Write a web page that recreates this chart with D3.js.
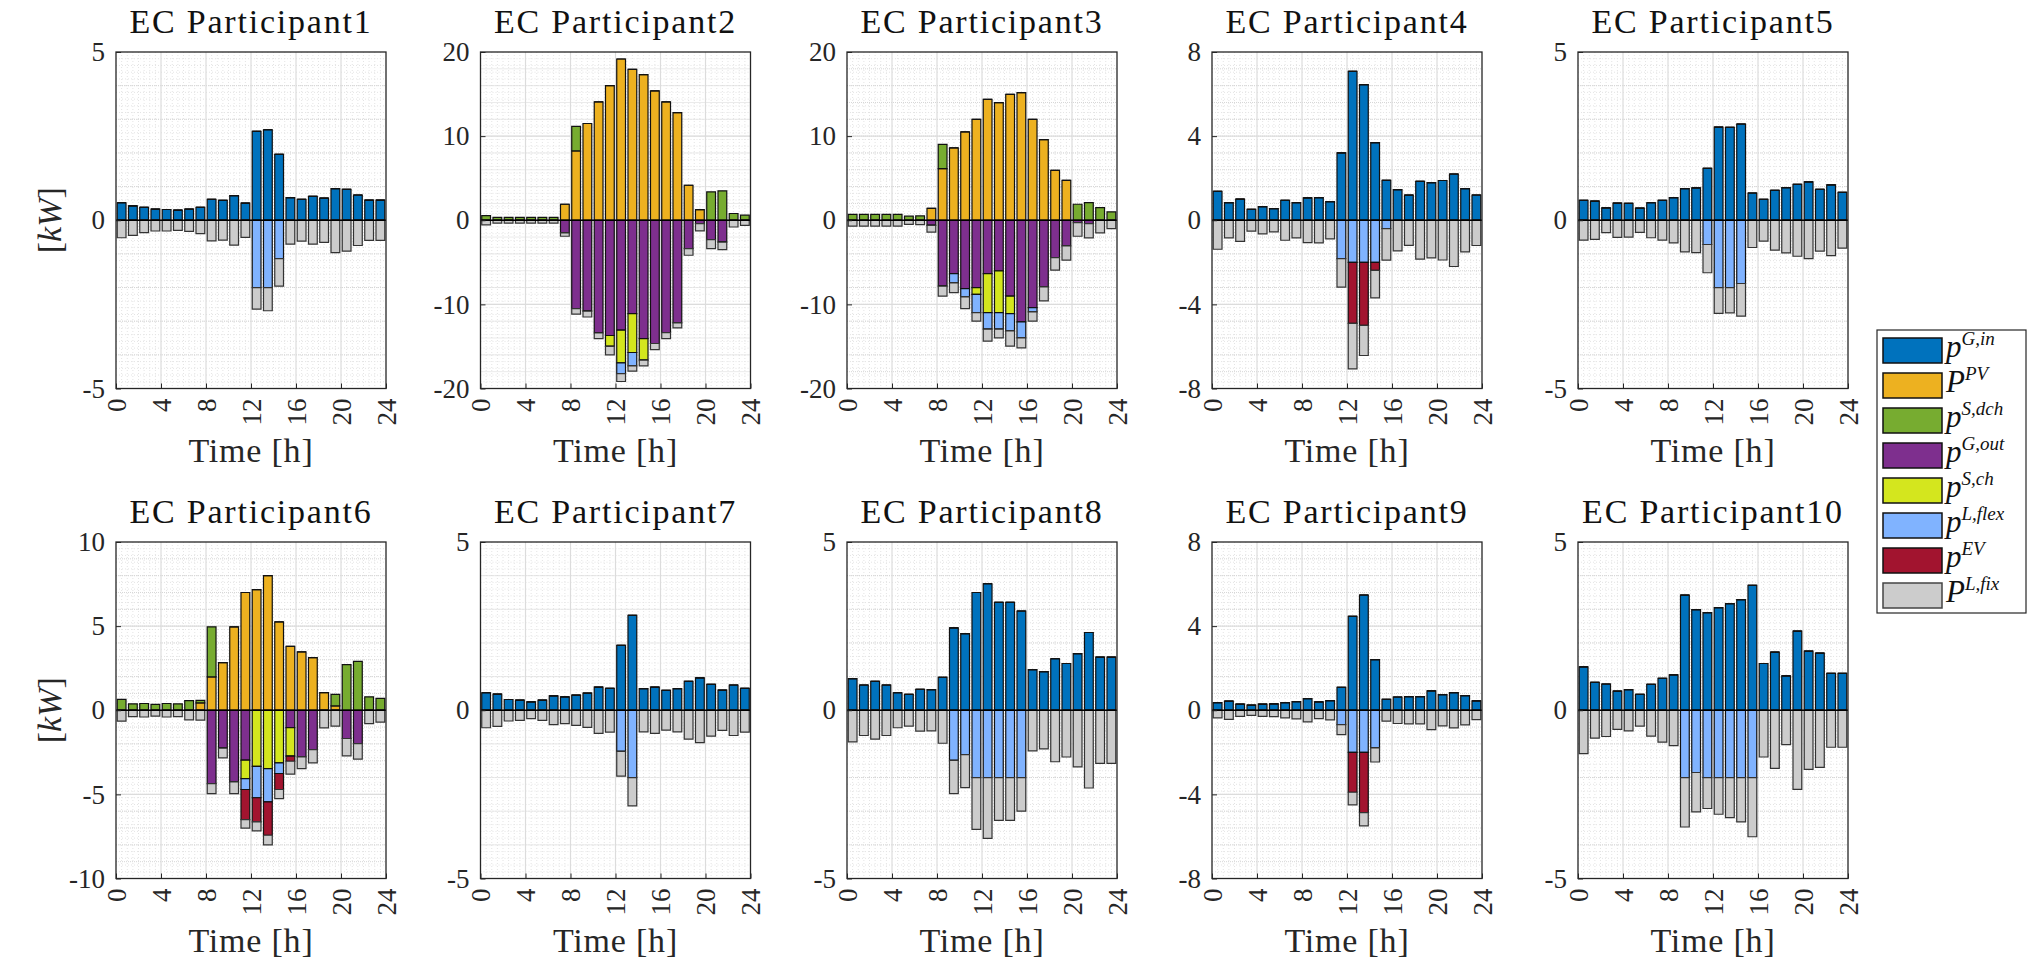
<!DOCTYPE html>
<html><head><meta charset="utf-8">
<script src="https://cdn.jsdelivr.net/npm/d3@7"></script>
<style>body{margin:0;background:#fff;} svg{display:block;}</style>
</head><body>
<svg id="chart" width="2028" height="963"></svg>
<script>
// ---------------- DATA ----------------
const hours = [0,1,2,3,4,5,6,7,8,9,10,11,12,13,14,15,16,17,18,19,20,21,22,23];
const xTickValues = [0,4,8,12,16,20,24];
const titles = ["EC Participant1","EC Participant2","EC Participant3","EC Participant4","EC Participant5",
                "EC Participant6","EC Participant7","EC Participant8","EC Participant9","EC Participant10"];
const yLimits = [5,20,20,8,5,10,5,5,8,5];
const yTickSets = [[-5,0,5],[-20,-10,0,10,20],[-20,-10,0,10,20],[-8,-4,0,4,8],[-5,0,5],
                   [-10,-5,0,5,10],[-5,0,5],[-5,0,5],[-8,-4,0,4,8],[-5,0,5]];

const seriesKeys = ["Gin","PV","Sdch","Gout","Sch","Lflex","EV","Lfix"];
const seriesColors = ["#0072BD","#EDB120","#77AC30","#7E2F8E","#D4E61E","#80B3FF","#A2142F","#CCCCCC"];
const legendBase = ["p","P","p","p","p","p","p","P"];
const legendSup = ["G,in","PV","S,dch","G,out","S,ch","L,flex","EV","L,fix"];
const positiveKeys = ["Gin","PV","Sdch"];
const negativeKeys = ["Gout","Sch","Lflex","EV","Lfix"];

const zeros = [0,0,0,0,0,0,0,0,0,0,0,0,0,0,0,0,0,0,0,0,0,0,0,0];

// Participant 1
const p1Gin   = [0.52,0.43,0.38,0.33,0.32,0.30,0.33,0.38,0.62,0.59,0.73,0.51,2.64,2.69,1.96,0.67,0.62,0.71,0.66,0.94,0.92,0.75,0.60,0.60];
const p1Lflex = [0,0,0,0,0,0,0,0,0,0,0,0,2.00,2.00,1.14,0,0,0,0,0,0,0,0,0];
const p1Lfix  = [0.52,0.45,0.37,0.32,0.32,0.30,0.33,0.40,0.61,0.59,0.74,0.51,0.64,0.69,0.82,0.71,0.62,0.71,0.66,0.96,0.92,0.75,0.60,0.60];
// Participant 2
const p2PV    = [0,0,0,0,0,0,0,1.90,8.24,11.50,14.06,16.00,19.17,17.94,17.30,15.37,14.06,12.80,4.16,1.27,0,0,0,0];
const p2Sdch  = [0.55,0.35,0.35,0.35,0.35,0.35,0.35,0,2.93,0,0,0,0,0,0,0,0,0,0,0,3.37,3.50,0.80,0.60];
const p2Gout  = [0,0,0,0,0,0,0,1.50,10.50,10.80,13.40,13.70,13.07,11.09,14.06,14.65,13.35,12.20,3.37,0.40,2.30,2.60,0,0];
const p2Sch   = [0,0,0,0,0,0,0,0,0,0,0,1.30,3.88,4.63,2.57,0,0,0,0,0,0,0,0,0];
const p2Lflex = [0,0,0,0,0,0,0,0,0,0,0,0,1.27,1.58,0,0,0,0,0,0,0,0,0,0];
const p2Lfix  = [0.55,0.35,0.35,0.35,0.35,0.35,0.35,0.40,0.67,0.70,0.66,1.00,0.95,0.64,0.67,0.72,0.71,0.60,0.79,0.87,1.07,0.90,0.80,0.60];
// Participant 3
const p3PV    = [0,0,0,0,0,0,0,1.40,6.14,8.60,10.50,12.00,14.38,13.98,14.97,15.17,12.00,9.58,5.94,4.75,0,0,0,0];
const p3Sdch  = [0.71,0.71,0.71,0.71,0.71,0.48,0.51,0,2.89,0,0,0,0,0,0,0,0,0,0,0,1.90,2.10,1.50,1.00];
const p3Gout  = [0,0,0,0,0,0,0,0.60,7.84,6.34,8.12,8.00,6.34,6.02,9.03,12.08,10.38,7.92,4.44,3.05,0.30,0.40,0,0];
const p3Sch   = [0,0,0,0,0,0,0,0,0,0,0,0.80,4.63,4.95,2.06,0,0,0,0,0,0,0,0,0];
const p3Lflex = [0,0,0,0,0,0,0,0,0,1.11,0.98,2.17,1.98,1.98,2.06,1.90,0.51,0,0,0,0,0,0,0];
const p3Lfix  = [0.71,0.71,0.71,0.71,0.71,0.48,0.51,0.80,1.19,1.15,1.40,1.03,1.43,1.03,1.82,1.19,1.11,1.66,1.50,1.70,1.60,1.70,1.50,1.00];
// Participant 4
const p4Gin   = [1.38,0.84,1.00,0.52,0.65,0.55,0.95,0.84,1.06,1.08,0.89,3.20,7.08,6.45,3.69,1.90,1.46,1.19,1.85,1.79,1.89,2.20,1.50,1.20];
const p4Lflex = [0,0,0,0,0,0,0,0,0,0,0,1.82,2.00,2.00,2.00,0.40,0,0,0,0,0,0,0,0];
const p4EV    = [0,0,0,0,0,0,0,0,0,0,0,0,2.90,3.00,0.38,0,0,0,0,0,0,0,0,0];
const p4Lfix  = [1.38,0.84,1.00,0.52,0.65,0.55,0.95,0.84,1.06,1.08,0.89,1.36,2.17,1.43,1.31,1.50,1.46,1.19,1.85,1.79,1.89,2.20,1.50,1.20];
// Participant 5
const p5Gin   = [0.59,0.57,0.37,0.51,0.50,0.36,0.52,0.59,0.67,0.94,0.96,1.54,2.77,2.76,2.86,0.81,0.62,0.89,0.97,1.07,1.14,0.92,1.05,0.83];
const p5Lflex = [0,0,0,0,0,0,0,0,0,0,0,0.72,2.00,2.00,1.88,0,0,0,0,0,0,0,0,0];
const p5Lfix  = [0.59,0.57,0.37,0.51,0.50,0.36,0.52,0.59,0.67,0.94,0.96,0.84,0.77,0.75,0.97,0.81,0.62,0.89,0.97,1.07,1.14,0.92,1.05,0.83];
// Participant 6
const p6PV    = [0,0,0,0,0,0,0,0.44,1.98,2.83,4.95,7.00,7.17,8.00,5.25,3.80,3.47,3.13,1.05,0.26,0,0,0,0];
const p6Sdch  = [0.65,0.38,0.40,0.35,0.40,0.38,0.57,0.15,2.98,0,0,0,0,0,0,0,0,0,0,0.68,2.71,2.90,0.80,0.70];
const p6Gout  = [0,0,0,0,0,0,0,0,4.36,2.25,4.26,2.97,0,0,0,1.03,2.77,2.34,0,0,1.68,1.98,0,0];
const p6Sch   = [0,0,0,0,0,0,0,0,0,0,0,1.09,3.33,3.47,3.13,1.70,0,0,0,0,0,0,0,0];
const p6Lflex = [0,0,0,0,0,0,0,0,0,0,0,0.65,1.87,1.98,0.63,0,0,0,0,0,0,0,0,0];
const p6EV    = [0,0,0,0,0,0,0,0,0,0,0,1.79,1.43,1.98,0.95,0.30,0,0,0,0,0,0,0,0];
const p6Lfix  = [0.65,0.38,0.40,0.35,0.40,0.38,0.57,0.59,0.60,0.58,0.69,0.50,0.54,0.57,0.54,0.77,0.70,0.79,1.05,0.94,1.03,0.92,0.80,0.70];
// Participant 7
const p7Gin   = [0.52,0.48,0.32,0.30,0.25,0.30,0.43,0.40,0.45,0.51,0.69,0.65,1.93,2.82,0.64,0.69,0.59,0.64,0.86,0.96,0.77,0.60,0.75,0.65];
const p7Lflex = [0,0,0,0,0,0,0,0,0,0,0,0,1.22,2.00,0,0,0,0,0,0,0,0,0,0];
const p7Lfix  = [0.52,0.48,0.32,0.30,0.25,0.30,0.43,0.40,0.45,0.51,0.69,0.65,0.74,0.84,0.64,0.69,0.59,0.64,0.86,0.96,0.77,0.60,0.75,0.65];
// Participant 8
const p8Gin   = [0.94,0.75,0.86,0.75,0.52,0.47,0.62,0.61,0.98,2.45,2.28,3.50,3.76,3.21,3.21,2.95,1.21,1.15,1.53,1.39,1.68,2.31,1.58,1.58];
const p8Lflex = [0,0,0,0,0,0,0,0,0,1.49,1.32,2.00,2.00,2.00,2.00,2.00,0,0,0,0,0,0,0,0];
const p8Lfix  = [0.94,0.75,0.86,0.75,0.52,0.47,0.62,0.61,0.98,0.99,0.98,1.54,1.81,1.27,1.27,1.00,1.21,1.15,1.53,1.39,1.68,2.31,1.58,1.58];
// Participant 9
const p9Gin   = [0.36,0.43,0.29,0.24,0.29,0.30,0.36,0.41,0.55,0.40,0.46,1.09,4.47,5.48,2.41,0.52,0.63,0.65,0.65,0.92,0.74,0.84,0.70,0.45];
const p9Lflex = [0,0,0,0,0,0,0,0,0,0,0,0.68,2.00,2.00,1.79,0,0,0,0,0,0,0,0,0];
const p9EV    = [0,0,0,0,0,0,0,0,0,0,0,0,1.90,2.87,0,0,0,0,0,0,0,0,0,0];
const p9Lfix  = [0.36,0.43,0.29,0.24,0.29,0.30,0.36,0.41,0.55,0.40,0.46,0.48,0.60,0.63,0.67,0.52,0.63,0.65,0.65,0.92,0.74,0.84,0.70,0.45];
// Participant 10
const p10Gin   = [1.29,0.83,0.78,0.57,0.61,0.47,0.77,0.95,1.05,3.42,2.99,2.90,3.05,3.17,3.29,3.71,1.39,1.73,1.02,2.35,1.76,1.70,1.10,1.10];
const p10Lflex = [0,0,0,0,0,0,0,0,0,2.00,1.85,2.00,2.00,2.00,2.00,2.00,0,0,0,0,0,0,0,0];
const p10Lfix  = [1.29,0.83,0.78,0.57,0.61,0.47,0.77,0.95,1.05,1.47,1.17,0.92,1.09,1.19,1.32,1.76,1.39,1.73,1.02,2.35,1.76,1.70,1.10,1.10];

// table built from the arrays above
const participants = [
  {Gin:p1Gin, PV:zeros, Sdch:zeros, Gout:zeros, Sch:zeros, Lflex:p1Lflex, EV:zeros, Lfix:p1Lfix},
  {Gin:zeros, PV:p2PV, Sdch:p2Sdch, Gout:p2Gout, Sch:p2Sch, Lflex:p2Lflex, EV:zeros, Lfix:p2Lfix},
  {Gin:zeros, PV:p3PV, Sdch:p3Sdch, Gout:p3Gout, Sch:p3Sch, Lflex:p3Lflex, EV:zeros, Lfix:p3Lfix},
  {Gin:p4Gin, PV:zeros, Sdch:zeros, Gout:zeros, Sch:zeros, Lflex:p4Lflex, EV:p4EV, Lfix:p4Lfix},
  {Gin:p5Gin, PV:zeros, Sdch:zeros, Gout:zeros, Sch:zeros, Lflex:p5Lflex, EV:zeros, Lfix:p5Lfix},
  {Gin:zeros, PV:p6PV, Sdch:p6Sdch, Gout:p6Gout, Sch:p6Sch, Lflex:p6Lflex, EV:p6EV, Lfix:p6Lfix},
  {Gin:p7Gin, PV:zeros, Sdch:zeros, Gout:zeros, Sch:zeros, Lflex:p7Lflex, EV:zeros, Lfix:p7Lfix},
  {Gin:p8Gin, PV:zeros, Sdch:zeros, Gout:zeros, Sch:zeros, Lflex:p8Lflex, EV:zeros, Lfix:p8Lfix},
  {Gin:p9Gin, PV:zeros, Sdch:zeros, Gout:zeros, Sch:zeros, Lflex:p9Lflex, EV:p9EV, Lfix:p9Lfix},
  {Gin:p10Gin, PV:zeros, Sdch:zeros, Gout:zeros, Sch:zeros, Lflex:p10Lflex, EV:zeros, Lfix:p10Lfix}
];

// ---------------- FONT PICK ----------------
const ctx = document.createElement("canvas").getContext("2d");
function measure(font, size, txt) { ctx.font = `${size}px ${font}`; return ctx.measureText(txt).width; }
function hasFont(name) {
  const s = "EC Participant3 mmmwwwiiilll 0123456789";
  return measure(`'${name}', monospace`, 40, s) !== measure("monospace", 40, s) ||
         measure(`'${name}', sans-serif`, 40, s) !== measure("sans-serif", 40, s);
}
const serifCandidates = ["Liberation Serif", "Tinos", "DejaVu Serif", "Noto Serif", "Times New Roman"];
const picked = serifCandidates.find(hasFont) || "serif";
const FONT = `'${picked}', serif`;
// size fonts so that the text matches the reference's measured extents
function fitSize(txt, targetW, base) { const w = measure(FONT, base, txt); return base * targetW / w; }
const titleSize = Math.min(34, fitSize("EC Participant3", 243, 33));
const titleSpacing = Math.max(0, (243 - measure(FONT, titleSize, "EC Participant3")) / 15);
const labelSize = Math.min(34, fitSize("Time [h]", 125, 33));
const labelSpacing = Math.max(0, (125 - measure(FONT, labelSize, "Time [h]")) / 8);
const tickSize = Math.min(27, fitSize("-20", 41, 27));

// ---------------- DRAWING ----------------
const svg = d3.select("#chart");
svg.append("rect").attr("width",2028).attr("height",963).attr("fill","#fff");

const W = 270, H = 336.5;
const colLeft = [116, 480.5, 847, 1212, 1578];
const rowTop = [52, 542];
const colorOf = Object.fromEntries(seriesKeys.map((k,i)=>[k,seriesColors[i]]));

participants.forEach((p, k) => {
  const col = k % 5, row = Math.floor(k / 5);
  const g = svg.append("g").attr("transform", `translate(${colLeft[col]},${rowTop[row]})`);
  const M = yLimits[k];
  const x = d3.scaleLinear().domain([0, 24]).range([0, W]);
  const y = d3.scaleLinear().domain([-M, M]).range([H, 0]);
  const ticks = yTickSets[k];
  const step = ticks[1] - ticks[0];

  // fine dotted minor grid
  const grid = g.append("g");
  d3.range(0.5, 24, 0.5).filter(v => v % 4 !== 0).forEach(v => {
    grid.append("line").attr("x1", x(v)).attr("x2", x(v)).attr("y1", 0).attr("y2", H)
      .attr("stroke", "#e4e4e4").attr("stroke-width", 1).attr("stroke-dasharray", "1,2");
  });
  const fine = 2 * M / 50;
  d3.range(-M + fine, M - fine / 2, fine).forEach(v => {
    grid.append("line").attr("x1", 0).attr("x2", W).attr("y1", y(v)).attr("y2", y(v))
      .attr("stroke", "#e4e4e4").attr("stroke-width", 1).attr("stroke-dasharray", "1,2");
  });
  const med = step / 5;
  d3.range(-M + med, M - med / 2, med).forEach(v => {
    grid.append("line").attr("x1", 0).attr("x2", W).attr("y1", y(v)).attr("y2", y(v))
      .attr("stroke", "#d6d6d6").attr("stroke-width", 1).attr("stroke-dasharray", "1,1");
  });
  // major grid
  xTickValues.slice(1, -1).forEach(v => {
    grid.append("line").attr("x1", x(v)).attr("x2", x(v)).attr("y1", 0).attr("y2", H)
      .attr("stroke", "#dcdcdc").attr("stroke-width", 1.2);
  });
  ticks.slice(1, -1).forEach(v => {
    grid.append("line").attr("x1", 0).attr("x2", W).attr("y1", y(v)).attr("y2", y(v))
      .attr("stroke", "#dcdcdc").attr("stroke-width", 1.2);
  });

  // bars
  const bw = x(0.78) - x(0);
  const bars = g.append("g");
  hours.forEach(h => {
    const cx = x(h + 0.5);
    let pos = 0;
    positiveKeys.forEach(key => {
      const v = p[key][h];
      const y0 = y(pos), y1 = y(pos + v);
      bars.append("path")
        .attr("d", `M${cx - bw/2},${y0}H${cx + bw/2}V${y1}H${cx - bw/2}Z`)
        .attr("fill", colorOf[key]).attr("stroke", "#111").attr("stroke-width", 1.2);
      pos += v;
    });
    let neg = 0;
    negativeKeys.forEach(key => {
      const v = p[key][h];
      const y0 = y(neg), y1 = y(neg - v);
      bars.append("path")
        .attr("d", `M${cx - bw/2},${y0}H${cx + bw/2}V${y1}H${cx - bw/2}Z`)
        .attr("fill", colorOf[key]).attr("stroke", key === "Lfix" ? "#333" : "#111").attr("stroke-width", 1.2);
      neg -= v;
    });
  });
  // baseline
  g.append("line").attr("x1", 0).attr("x2", W).attr("y1", y(0)).attr("y2", y(0))
    .attr("stroke", "#000").attr("stroke-width", 1.3);

  // axes
  const ya = g.append("g").call(d3.axisLeft(y).tickValues(ticks).tickSizeInner(-5).tickSizeOuter(0)
      .tickPadding(11).tickFormat(d => String(d)));
  ya.select(".domain").remove();
  ya.selectAll("line").attr("stroke", "#262626");
  ya.selectAll("text").attr("font-family", FONT).attr("font-size", tickSize).attr("fill", "#262626");

  const xa = g.append("g").attr("transform", `translate(0,${H})`)
    .call(d3.axisBottom(x).tickValues(xTickValues).tickSizeInner(-5).tickSizeOuter(0));
  xa.select(".domain").remove();
  xa.selectAll("line").attr("stroke", "#262626");
  xa.selectAll("text").attr("font-family", FONT).attr("font-size", tickSize).attr("fill", "#262626")
    .attr("x", -10).attr("y", 0).attr("dy", "0.35em")
    .attr("transform", "rotate(-90)").style("text-anchor", "end");

  // box
  g.append("rect").attr("x", 0).attr("y", 0).attr("width", W).attr("height", H)
    .attr("fill", "none").attr("stroke", "#262626").attr("stroke-width", 1.3);

  // title
  g.append("text").attr("x", W / 2).attr("y", -19).attr("text-anchor", "middle")
    .attr("font-family", FONT).attr("font-size", titleSize).attr("letter-spacing", titleSpacing + "px")
    .attr("fill", "#111").text(titles[k]);
  // x label
  g.append("text").attr("x", W / 2).attr("y", H + 73).attr("text-anchor", "middle")
    .attr("font-family", FONT).attr("font-size", labelSize).attr("letter-spacing", labelSpacing + "px")
    .attr("fill", "#262626").text("Time [h]");
  // y label
  if (col === 0) {
    const t = svg.append("text")
      .attr("transform", `translate(61,${rowTop[row] + H / 2}) rotate(-90)`)
      .attr("text-anchor", "middle").attr("font-family", FONT).attr("font-size", labelSize).attr("fill", "#262626");
    t.append("tspan").text("[");
    t.append("tspan").attr("font-style", "italic").text("kW");
    t.append("tspan").text("]");
  }
});

// legend
const lg = svg.append("g").attr("transform", "translate(1877,330)");
lg.append("rect").attr("x", 0).attr("y", 0).attr("width", 149).attr("height", 283)
  .attr("fill", "#fff").attr("stroke", "#262626").attr("stroke-width", 1.2);
seriesKeys.forEach((key, i) => {
  const yy = 8 + i * 35;
  lg.append("rect").attr("x", 6).attr("y", yy).attr("width", 59).attr("height", 25)
    .attr("fill", seriesColors[i]).attr("stroke", key === "Lfix" ? "#444" : "#111").attr("stroke-width", 1.5);
  const t = lg.append("text").attr("x", 69).attr("y", yy + 19)
    .attr("font-family", FONT).attr("fill", "#111");
  t.append("tspan").attr("font-style", "italic").attr("font-size", 31).text(legendBase[i]);
  t.append("tspan").attr("font-style", "italic").attr("font-size", 19).attr("dy", -12).text(legendSup[i]);
});
</script>
</body></html>
